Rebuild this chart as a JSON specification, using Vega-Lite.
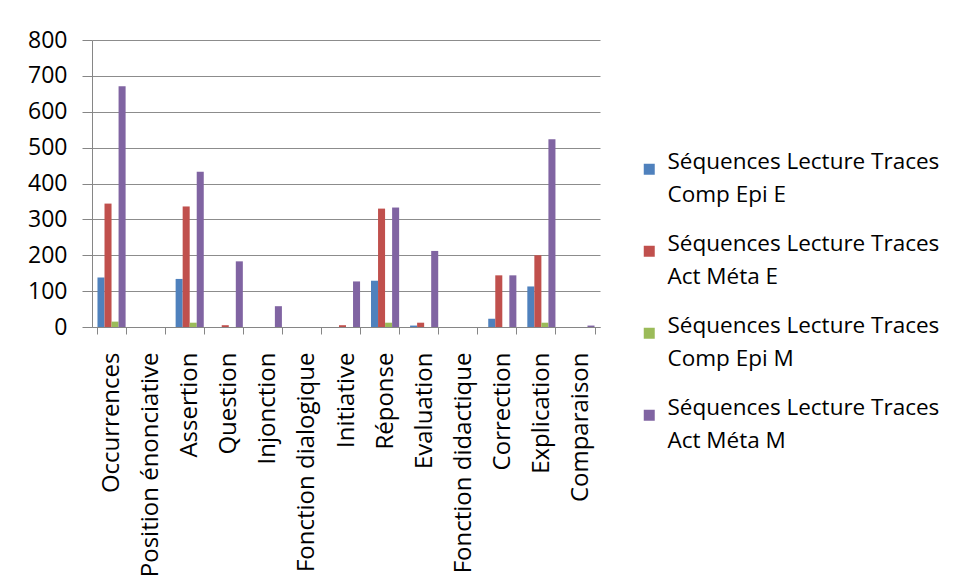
{
  "$schema": "https://vega.github.io/schema/vega-lite/v6.json",
  "autosize": "none",
  "width": 508,
  "height": 287,
  "padding": {"left": 92, "top": 40, "right": 362, "bottom": 255},
  "background": "white",
  "config": {
    "font": "Open Sans",
    "view": {"stroke": null},
    "style": {"guide-label": {"lineHeight": 33}},
    "axis": {"labelFont": "Open Sans", "labelColor": "#000000", "labelFontSize": 22, "domainColor": "#868686", "tickColor": "#868686", "gridColor": "#8c8c8c"}
  },
  "data": {"values": [
    {"cat": "Occurrences", "s": "Séquences Lecture Traces Comp Epi E", "v": 138},
    {"cat": "Occurrences", "s": "Séquences Lecture Traces Act Méta E", "v": 344},
    {"cat": "Occurrences", "s": "Séquences Lecture Traces Comp Epi M", "v": 15},
    {"cat": "Occurrences", "s": "Séquences Lecture Traces Act Méta M", "v": 671},
    {"cat": "Position énonciative", "s": "Séquences Lecture Traces Comp Epi E", "v": 0},
    {"cat": "Position énonciative", "s": "Séquences Lecture Traces Act Méta E", "v": 0},
    {"cat": "Position énonciative", "s": "Séquences Lecture Traces Comp Epi M", "v": 0},
    {"cat": "Position énonciative", "s": "Séquences Lecture Traces Act Méta M", "v": 0},
    {"cat": "Assertion", "s": "Séquences Lecture Traces Comp Epi E", "v": 134},
    {"cat": "Assertion", "s": "Séquences Lecture Traces Act Méta E", "v": 336},
    {"cat": "Assertion", "s": "Séquences Lecture Traces Comp Epi M", "v": 12},
    {"cat": "Assertion", "s": "Séquences Lecture Traces Act Méta M", "v": 433},
    {"cat": "Question", "s": "Séquences Lecture Traces Comp Epi E", "v": 0},
    {"cat": "Question", "s": "Séquences Lecture Traces Act Méta E", "v": 5},
    {"cat": "Question", "s": "Séquences Lecture Traces Comp Epi M", "v": 0},
    {"cat": "Question", "s": "Séquences Lecture Traces Act Méta M", "v": 183},
    {"cat": "Injonction", "s": "Séquences Lecture Traces Comp Epi E", "v": 0},
    {"cat": "Injonction", "s": "Séquences Lecture Traces Act Méta E", "v": 0},
    {"cat": "Injonction", "s": "Séquences Lecture Traces Comp Epi M", "v": 0},
    {"cat": "Injonction", "s": "Séquences Lecture Traces Act Méta M", "v": 58},
    {"cat": "Fonction dialogique", "s": "Séquences Lecture Traces Comp Epi E", "v": 0},
    {"cat": "Fonction dialogique", "s": "Séquences Lecture Traces Act Méta E", "v": 0},
    {"cat": "Fonction dialogique", "s": "Séquences Lecture Traces Comp Epi M", "v": 0},
    {"cat": "Fonction dialogique", "s": "Séquences Lecture Traces Act Méta M", "v": 0},
    {"cat": "Initiative", "s": "Séquences Lecture Traces Comp Epi E", "v": 0},
    {"cat": "Initiative", "s": "Séquences Lecture Traces Act Méta E", "v": 5},
    {"cat": "Initiative", "s": "Séquences Lecture Traces Comp Epi M", "v": 0},
    {"cat": "Initiative", "s": "Séquences Lecture Traces Act Méta M", "v": 127},
    {"cat": "Réponse", "s": "Séquences Lecture Traces Comp Epi E", "v": 129},
    {"cat": "Réponse", "s": "Séquences Lecture Traces Act Méta E", "v": 330},
    {"cat": "Réponse", "s": "Séquences Lecture Traces Comp Epi M", "v": 12},
    {"cat": "Réponse", "s": "Séquences Lecture Traces Act Méta M", "v": 333},
    {"cat": "Evaluation", "s": "Séquences Lecture Traces Comp Epi E", "v": 4},
    {"cat": "Evaluation", "s": "Séquences Lecture Traces Act Méta E", "v": 12},
    {"cat": "Evaluation", "s": "Séquences Lecture Traces Comp Epi M", "v": 0},
    {"cat": "Evaluation", "s": "Séquences Lecture Traces Act Méta M", "v": 212},
    {"cat": "Fonction didactique", "s": "Séquences Lecture Traces Comp Epi E", "v": 0},
    {"cat": "Fonction didactique", "s": "Séquences Lecture Traces Act Méta E", "v": 0},
    {"cat": "Fonction didactique", "s": "Séquences Lecture Traces Comp Epi M", "v": 0},
    {"cat": "Fonction didactique", "s": "Séquences Lecture Traces Act Méta M", "v": 0},
    {"cat": "Correction", "s": "Séquences Lecture Traces Comp Epi E", "v": 23},
    {"cat": "Correction", "s": "Séquences Lecture Traces Act Méta E", "v": 144},
    {"cat": "Correction", "s": "Séquences Lecture Traces Comp Epi M", "v": 0},
    {"cat": "Correction", "s": "Séquences Lecture Traces Act Méta M", "v": 144},
    {"cat": "Explication", "s": "Séquences Lecture Traces Comp Epi E", "v": 113},
    {"cat": "Explication", "s": "Séquences Lecture Traces Act Méta E", "v": 200},
    {"cat": "Explication", "s": "Séquences Lecture Traces Comp Epi M", "v": 12},
    {"cat": "Explication", "s": "Séquences Lecture Traces Act Méta M", "v": 523},
    {"cat": "Comparaison", "s": "Séquences Lecture Traces Comp Epi E", "v": 0},
    {"cat": "Comparaison", "s": "Séquences Lecture Traces Act Méta E", "v": 0},
    {"cat": "Comparaison", "s": "Séquences Lecture Traces Comp Epi M", "v": 0},
    {"cat": "Comparaison", "s": "Séquences Lecture Traces Act Méta M", "v": 4}
  ]},
  "mark": {"type": "bar"},
  "encoding": {
    "x": {
      "field": "cat", "type": "nominal", "sort": null, "title": null,
      "scale": {"paddingInner": 0.28, "paddingOuter": 0.14},
      "axis": {"labelAngle": -90, "tickBand": "extent", "tickSize": 7, "labelPadding": 18, "labelFontSize": 24, "labelLimit": 300, "grid": false}
    },
    "xOffset": {
      "field": "s", "type": "nominal", "sort": null,
      "scale": {"paddingInner": 0, "paddingOuter": 0}
    },
    "y": {
      "field": "v", "type": "quantitative", "title": null,
      "scale": {"domain": [0, 800], "nice": false},
      "axis": {"values": [0, 100, 200, 300, 400, 500, 600, 700, 800], "tickSize": 10, "labelPadding": 15, "labelFontSize": 23, "grid": true, "domain": true}
    },
    "color": {
      "field": "s", "type": "nominal", "sort": null, "title": null,
      "scale": {"range": ["#4F81BD", "#C0504D", "#9BBB59", "#8064A2"]},
      "legend": {
        "orient": "none", "legendX": 546, "legendY": 118, "padding": 0,
        "symbolType": "square", "symbolSize": 121, "symbolStrokeWidth": 0,
        "labelFont": "Open Sans", "labelFontSize": 22.5, "labelColor": "#000000", "labelLimit": 400,
        "labelOffset": 7, "rowPadding": 26, "labelBaseline": "alphabetic",
        "labelExpr": "[slice(datum.label, 0, 24), slice(datum.label, 25)]"
      }
    }
  }
}
